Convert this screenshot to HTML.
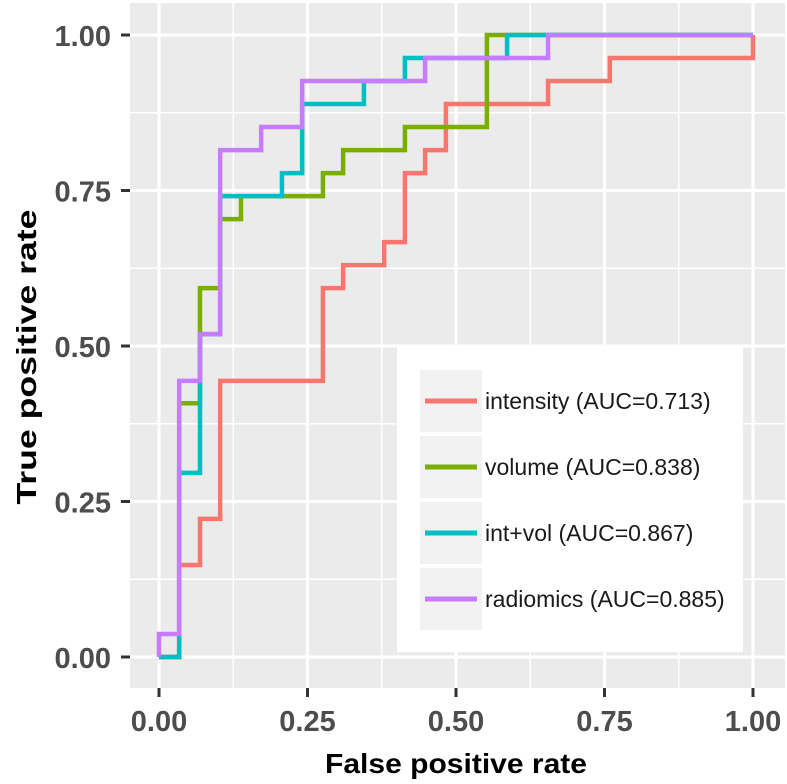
<!DOCTYPE html>
<html><head><meta charset="utf-8"><style>
body{margin:0;background:#fff;}
svg{display:block;font-family:"Liberation Sans",sans-serif;}
</style></head><body>
<svg id="chart" width="787" height="784">
<rect x="130" y="3" width="655" height="685" fill="#ebebeb"/>
<g id="grid"></g><g id="axes"></g><g id="series"></g>
<g>
<rect x="397" y="347" width="346" height="305" fill="#fff"/>
<g id="legend"></g>
</g>
<text x="456" y="773" font-size="28" font-weight="bold" text-anchor="middle" textLength="262" lengthAdjust="spacingAndGlyphs" fill="#000">False positive rate</text>
<text transform="translate(36,357) rotate(-90)" font-size="28" font-weight="bold" text-anchor="middle" textLength="295" lengthAdjust="spacingAndGlyphs" fill="#000">True positive rate</text>
</svg>
<script>
const ticks=[0,0.25,0.5,0.75,1];
const tickLabels=["0.00","0.25","0.50","0.75","1.00"];
const seriesNames=["intensity (AUC=0.713)","volume (AUC=0.838)","int+vol (AUC=0.867)","radiomics (AUC=0.885)"];
const colors=["#F8766D","#7CAE00","#00BFC4","#C77CFF"];
const intensityFpr=[0,0.034,0.034,0.069,0.069,0.103,0.103,0.276,0.276,0.310,0.310,0.379,0.379,0.414,0.414,0.448,0.448,0.483,0.483,0.655,0.655,0.759,0.759,1,1];
const intensityTpr=[0,0,0.148,0.148,0.222,0.222,0.444,0.444,0.593,0.593,0.630,0.630,0.667,0.667,0.778,0.778,0.815,0.815,0.889,0.889,0.926,0.926,0.963,0.963,1];
const volumeFpr=[0,0.034,0.034,0.069,0.069,0.103,0.103,0.138,0.138,0.276,0.276,0.310,0.310,0.414,0.414,0.552,0.552,1];
const volumeTpr=[0,0,0.408,0.408,0.593,0.593,0.704,0.704,0.741,0.741,0.778,0.778,0.815,0.815,0.852,0.852,1,1];
const intvolFpr=[0,0.034,0.034,0.069,0.069,0.103,0.103,0.207,0.207,0.241,0.241,0.345,0.345,0.414,0.414,0.586,0.586,1];
const intvolTpr=[0,0,0.296,0.296,0.519,0.519,0.741,0.741,0.778,0.778,0.889,0.889,0.926,0.926,0.963,0.963,1,1];
const radiomicsFpr=[0,0,0.034,0.034,0.069,0.069,0.103,0.103,0.172,0.172,0.241,0.241,0.448,0.448,0.655,0.655,1];
const radiomicsTpr=[0,0.037,0.037,0.444,0.444,0.519,0.519,0.815,0.815,0.852,0.852,0.926,0.926,0.963,0.963,1,1];
const NS="http://www.w3.org/2000/svg";
const X=v=>159+v*594, Y=v=>657-v*622;
function mk(p,t,a){const e=document.createElementNS(NS,t);for(const k in a)e.setAttribute(k,a[k]);p.appendChild(e);return e;}
const grid=document.getElementById('grid'),axes=document.getElementById('axes'),ser=document.getElementById('series'),leg=document.getElementById('legend');
for(let i=0;i<ticks.length-1;i++){const m=(ticks[i]+ticks[i+1])/2;
 let a=mk(grid,'line',{x1:X(m),x2:X(m),y1:3,y2:688,stroke:'#fff','stroke-width':1.5});
 
 let b=mk(grid,'line',{x1:130,x2:785,y1:Y(m),y2:Y(m),stroke:'#fff','stroke-width':1.5});
 }
ticks.forEach((t,i)=>{
 let a=mk(grid,'line',{x1:X(t),x2:X(t),y1:3,y2:688,stroke:'#fff','stroke-width':3});
 
 let b=mk(grid,'line',{x1:130,x2:785,y1:Y(t),y2:Y(t),stroke:'#fff','stroke-width':3});
 
 let c=mk(axes,'line',{x1:X(t),x2:X(t),y1:688,y2:697,stroke:'#333','stroke-width':3});
 
 let d=mk(axes,'line',{x1:121,x2:130,y1:Y(t),y2:Y(t),stroke:'#333','stroke-width':3});
 
 let e=mk(axes,'text',{x:X(t),y:731,'font-size':29,'font-weight':'bold','text-anchor':'middle',fill:'#4d4d4d'});e.textContent=tickLabels[i];
 
 let f=mk(axes,'text',{x:111,y:Y(t)+11,'font-size':29,'font-weight':'bold','text-anchor':'end',fill:'#4d4d4d'});f.textContent=tickLabels[i];
 
});
const data=[[intensityFpr,intensityTpr],[volumeFpr,volumeTpr],[intvolFpr,intvolTpr],[radiomicsFpr,radiomicsTpr]];
const snames=['intensity-curve','volume-curve','intvol-curve','radiomics-curve'];
data.forEach((d,i)=>{
 const pts=d[0].map((x,j)=>X(x)+','+Y(d[1][j])).join(' ');
 let p=mk(ser,'polyline',{points:pts,fill:'none',stroke:colors[i],'stroke-width':4.5,'stroke-linejoin':'miter'});
 
 const y0=370+i*66;
 let k=mk(leg,'rect',{x:420,y:y0,width:62,height:62,fill:'#f2f2f2'});
 
 let l=mk(leg,'line',{x1:425,x2:477,y1:y0+31,y2:y0+31,stroke:colors[i],'stroke-width':5});
 
 let t=mk(leg,'text',{x:485,y:y0+39,'font-size':23,fill:'#1a1a1a'});t.textContent=seriesNames[i];
 
});
</script>
</body></html>
